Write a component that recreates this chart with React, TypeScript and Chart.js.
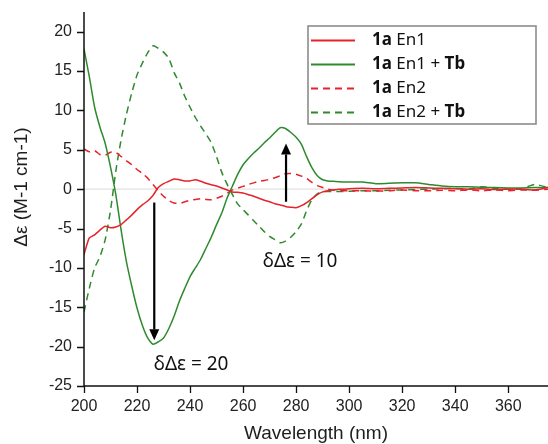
import React, { useEffect, useRef } from "react";
import { Chart, registerables } from "chart.js";

Chart.register(...registerables);

// ---------- data ----------
const wavelengths = [
  200, 202, 204, 206, 208, 210, 212, 214, 216, 218, 220, 222, 224, 226, 228, 230, 232, 234, 236, 238,
  240, 242, 244, 246, 248, 250, 252, 254, 256, 258, 260, 262, 264, 266, 268, 270, 272, 274, 276, 278,
  280, 282, 284, 286, 288, 290, 292, 294, 296, 298, 300, 305, 310, 315, 320, 325, 330, 335, 340, 345,
  350, 355, 360, 365, 370, 375,
];

const en1 = [
  -8.3, -6.2, -5.8, -5.2, -4.7, -4.9, -4.8, -4.5, -3.9, -3.3, -2.6, -2.0, -1.5, -0.8, 0.2, 0.7, 1.0, 1.3, 1.2, 1.05,
  1.05, 1.2, 1.0, 0.75, 0.55, 0.4, 0.15, -0.1, -0.35, -0.4, -0.5, -0.7, -0.9, -1.15, -1.4, -1.6, -1.85, -2.0, -2.2, -2.3,
  -2.35, -2.1, -1.7, -1.2, -0.7, -0.35, -0.2, -0.1, 0.0, 0.0, 0.05, 0.1, 0.05, 0.1, 0.15, 0.2, 0.15, 0.1, 0.05, 0.0,
  0.05, -0.05, 0.0, 0.0, -0.1, 0.2,
];

const en1Tb = [
  17.8, 14.3, 10.4, 7.9, 5.8, 2.8, -0.7, -5.2, -9.2, -12.3, -15.1, -17.3, -18.9, -19.7, -19.4, -18.9, -17.7, -16.1, -14.2, -12.6,
  -11.1, -10.0, -8.9, -7.5, -6.1, -4.5, -3.0, -1.1, 0.4, 1.9, 3.1, 3.9, 4.6, 5.2, 5.9, 6.5, 7.2, 7.8, 7.7, 7.2,
  6.6, 5.7, 4.1, 2.7, 1.7, 1.2, 1.05, 1.0, 0.95, 0.9, 0.9, 0.9, 0.7, 0.75, 0.8, 0.8, 0.6, 0.4, 0.3, 0.3,
  0.25, 0.2, 0.15, 0.15, 0.2, 0.2,
];

const en2 = [
  5.1, 4.75, 4.9, 4.4, 4.3, 4.7, 4.65, 4.15, 3.6, 3.1, 2.5, 2.0, 1.4, 0.6, -0.2, -0.9, -1.45, -1.75, -1.8, -1.6,
  -1.4, -1.3, -1.2, -1.3, -1.35, -1.15, -0.9, -0.5, -0.1, 0.15, 0.35, 0.6, 0.8, 1.0, 1.1, 1.25, 1.45, 1.7, 1.95, 2.0,
  1.9, 1.65, 1.35, 0.85, 0.45, 0.2, 0.0, -0.1, -0.15, -0.2, -0.2, -0.2, -0.25, -0.2, -0.1, -0.2, -0.2, -0.15, -0.2, -0.1,
  -0.2, -0.1, -0.2, -0.1, -0.15, 0.0,
];

const en2Tb = [
  -15.6, -12.6, -10.0, -8.6, -6.4, -2.7, 2.3, 6.3, 9.5, 12.2, 14.5, 16.0, 17.3, 18.2, 17.9, 17.4, 16.6, 14.8, 13.5, 11.8,
  10.4, 9.1, 8.0, 7.0, 5.9, 4.1, 2.1, 0.6, -0.7, -1.9, -2.6, -3.3, -4.0, -4.7, -5.4, -6.0, -6.4, -6.8, -6.6, -6.1,
  -5.4, -4.4, -2.7, -1.3, -0.6, -0.3, -0.3, -0.3, -0.3, -0.3, -0.25, -0.2, -0.2, -0.15, -0.1, -0.05, 0.0, 0.05, 0.1, 0.0,
  0.3, 0.1, 0.0, 0.05, 0.6, 0.2,
];

const seriesNames = ["En1", "En1 + Tb", "En2", "En2 + Tb"];

// annotations (arrows and labels), in data units
const arrowX = [226.5, 276.2];
const arrowFrom = [-1.7, -1.6];
const arrowTo = [-19.2, 5.8];
const noteLabels = ["δΔε = 20", "δΔε = 10"];
const noteX = [240.4, 281.5];
const noteY = [-22.3, -9.2];

const RED = "#e4232a";
const GREEN = "#2f8a2f";
const AXIS_FONT = "'Liberation Sans', Arial, sans-serif";
const NOTE_FONT = "'Noto Sans', 'Open Sans', sans-serif";

const toPoints = (vals: number[]) => wavelengths.map((x, i) => ({ x, y: vals[i] }));

const decorPlugin = {
  id: "decor",
  beforeDatasetsDraw(chart: any) {
    const { ctx, chartArea, scales } = chart;
    const y0 = scales.y.getPixelForValue(0);
    ctx.save();
    ctx.strokeStyle = "#e2e2e2";
    ctx.lineWidth = 1.2;
    ctx.beginPath();
    ctx.moveTo(chartArea.left, y0);
    ctx.lineTo(chartArea.right, y0);
    ctx.stroke();
    ctx.restore();
  },
  afterDraw(chart: any) {
    const { ctx, chartArea, scales } = chart;
    const xs = scales.x;
    const ys = scales.y;
    ctx.save();
    // axes lines
    ctx.strokeStyle = "#111";
    ctx.lineWidth = 1.5;
    ctx.beginPath();
    ctx.moveTo(chartArea.left, chartArea.top);
    ctx.lineTo(chartArea.left, chartArea.bottom);
    ctx.lineTo(chartArea.right, chartArea.bottom);
    ctx.stroke();
    // ticks
    ctx.lineWidth = 1.3;
    ctx.beginPath();
    for (const t of ys.ticks) {
      if (t.value >= ys.max - 1e-6) continue;
      const py = Math.round(ys.getPixelForValue(t.value)) + 0.5;
      const major = Math.abs(t.value / 5 - Math.round(t.value / 5)) < 1e-6;
      const len = major ? 7 : 4;
      ctx.moveTo(chartArea.left - len, py);
      ctx.lineTo(chartArea.left, py);
    }
    for (const t of xs.ticks) {
      const px = Math.round(xs.getPixelForValue(t.value)) + 0.5;
      const major = t.value % 20 === 0;
      const len = major ? 7 : 4;
      ctx.moveTo(px, chartArea.bottom);
      ctx.lineTo(px, chartArea.bottom + len);
    }
    ctx.stroke();

    // axis titles
    ctx.fillStyle = "#1e1e1e";
    ctx.font = `19px ${AXIS_FONT}`;
    ctx.textAlign = "center";
    ctx.textBaseline = "middle";
    ctx.fillText("Wavelength (nm)", (chartArea.left + chartArea.right) / 2, 434);
    ctx.save();
    ctx.translate(22, 187);
    ctx.rotate(-Math.PI / 2);
    ctx.fillText("Δε (M-1 cm-1)", 0, 0);
    ctx.restore();

    // arrows
    ctx.strokeStyle = "#000";
    ctx.fillStyle = "#000";
    for (let i = 0; i < arrowX.length; i++) {
      const px = xs.getPixelForValue(arrowX[i]);
      const p1 = ys.getPixelForValue(arrowFrom[i]);
      const p2 = ys.getPixelForValue(arrowTo[i]);
      const dir = p2 > p1 ? 1 : -1;
      const head = 11;
      ctx.lineWidth = 2.2;
      ctx.beginPath();
      ctx.moveTo(px, p1);
      ctx.lineTo(px, p2 - dir * head);
      ctx.stroke();
      ctx.beginPath();
      ctx.moveTo(px, p2);
      ctx.lineTo(px - 5, p2 - dir * head);
      ctx.lineTo(px + 5, p2 - dir * head);
      ctx.closePath();
      ctx.fill();
    }

    // notes
    ctx.fillStyle = "#111";
    ctx.font = `19px ${NOTE_FONT}`;
    ctx.textAlign = "center";
    ctx.textBaseline = "middle";
    for (let i = 0; i < noteLabels.length; i++) {
      ctx.fillText(noteLabels[i], xs.getPixelForValue(noteX[i]), ys.getPixelForValue(noteY[i]));
    }

    // legend
    ctx.fillStyle = "#fff";
    ctx.fillRect(308, 26, 228, 98);
    ctx.strokeStyle = "#8c8c8c";
    ctx.lineWidth = 1.6;
    ctx.strokeRect(308, 26, 228, 98);
    const ds = chart.data.datasets;
    for (let i = 0; i < ds.length; i++) {
      const ly = 40.5 + i * 24;
      ctx.strokeStyle = ds[i].borderColor;
      ctx.lineWidth = 2;
      ctx.setLineDash(ds[i].borderDash || []);
      ctx.beginPath();
      ctx.moveTo(311, ly);
      ctx.lineTo(355, ly);
      ctx.stroke();
      ctx.setLineDash([]);
      const parts: [string, boolean][] = [["1a", true], [" " + seriesNames[i].replace(" + Tb", ""), false]];
      if (seriesNames[i].includes("+ Tb")) {
        parts.push([" + ", false]);
        parts.push(["Tb", true]);
      }
      let tx = 372;
      ctx.fillStyle = "#111";
      ctx.textAlign = "left";
      ctx.textBaseline = "middle";
      for (const [txt, bold] of parts) {
        ctx.font = `${bold ? "bold " : ""}17px ${NOTE_FONT}`;
        ctx.fillText(txt, tx, ly);
        tx += ctx.measureText(txt).width;
      }
    }
    ctx.restore();
  },
};

export default function App() {
  const ref = useRef<HTMLCanvasElement | null>(null);
  useEffect(() => {
    if (!ref.current) return;
    const chart = new Chart(ref.current, {
      type: "line",
      data: {
        datasets: [
          { label: "1a En1", data: toPoints(en1), borderColor: RED, borderWidth: 1.5, pointRadius: 0, fill: false },
          { label: "1a En1 + Tb", data: toPoints(en1Tb), borderColor: GREEN, borderWidth: 1.5, pointRadius: 0, fill: false },
          { label: "1a En2", data: toPoints(en2), borderColor: RED, borderWidth: 1.5, borderDash: [7, 5], pointRadius: 0, fill: false },
          { label: "1a En2 + Tb", data: toPoints(en2Tb), borderColor: GREEN, borderWidth: 1.5, borderDash: [7, 5], pointRadius: 0, fill: false },
        ] as any,
      },
      options: {
        animation: false,
        responsive: false,
        devicePixelRatio: 1,
        layout: { padding: { top: 12, right: 0, left: 0, bottom: 0 } },
        plugins: { legend: { display: false }, tooltip: { enabled: false } },
        elements: { line: { tension: 0.2 } },
        scales: {
          x: {
            type: "linear",
            min: 200,
            max: 375,
            grid: { display: false, drawTicks: false },
            border: { display: false },
            ticks: {
              stepSize: 10,
              includeBounds: false,
              autoSkip: false,
              maxRotation: 0,
              padding: 11,
              color: "#222",
              font: { family: AXIS_FONT, size: 16 },
              callback: (v: any) => (Number(v) % 20 === 0 ? String(v) : null),
            },
            afterFit: (s: any) => {
              s.height = 58;
              s.paddingLeft = 0;
              s.paddingRight = 0;
            },
          },
          y: {
            type: "linear",
            min: -25,
            max: 22.5,
            grid: { display: false, drawTicks: false },
            border: { display: false },
            ticks: {
              stepSize: 2.5,
              autoSkip: false,
              padding: 12,
              color: "#222",
              font: { family: AXIS_FONT, size: 16 },
              callback: (v: any) => {
                const n = Number(v);
                return n % 5 === 0 && n < 22 ? String(n) : null;
              },
            },
            afterFit: (s: any) => {
              s.width = 84;
              s.paddingTop = 0;
              s.paddingBottom = 0;
            },
          },
        },
      } as any,
      plugins: [decorPlugin],
    });
    return () => chart.destroy();
  }, []);
  return (
    <div style={{ position: "fixed", left: 0, top: 0, width: 548, height: 444, background: "#fff" }}>
      <canvas ref={ref} width={548} height={444} style={{ display: "block", width: 548, height: 444 }} />
    </div>
  );
}
